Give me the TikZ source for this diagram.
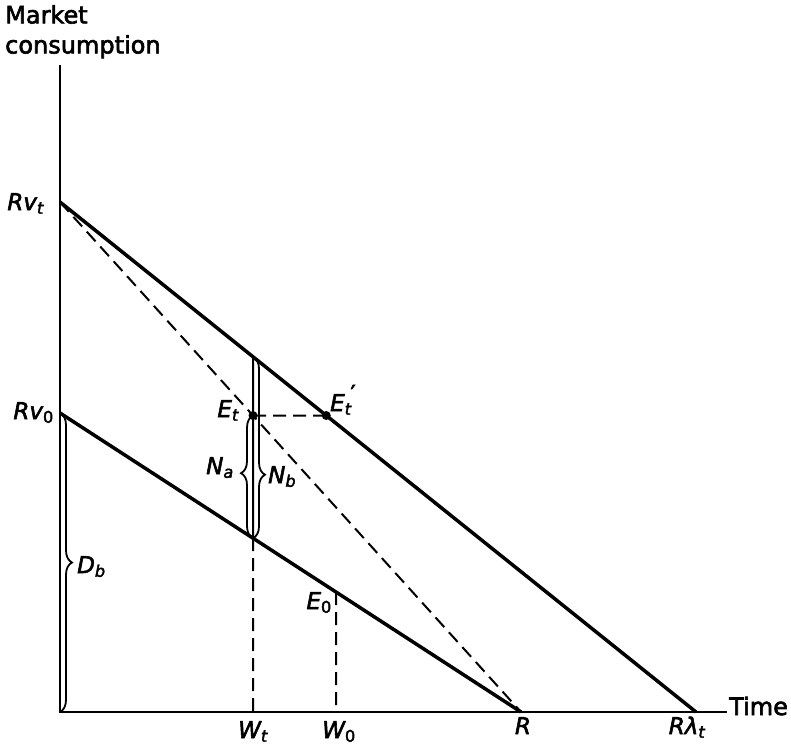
\documentclass[tikz,border=0pt]{standalone}
\usepackage{fontspec}
\setmainfont{DejaVu Sans}[FakeBold=2.5]
\usetikzlibrary{decorations.pathreplacing,calc}
\begin{document}
\begin{tikzpicture}[x=1pt,y=-1pt,
  axis/.style={line width=2.2pt},
  mainline/.style={line width=3.5pt},
  dsh/.style={line width=2pt, dash pattern=on 13pt off 7pt},
  brc/.style={decorate, decoration={brace, amplitude=12pt, aspect=#1}, line width=1.8pt},
  lab/.style={font=\fontsize{23}{25}\selectfont\itshape, inner sep=0pt},
  ttl/.style={font=\fontsize{24}{30}\selectfont, inner sep=0pt, align=left},
  dotm/.style={circle, fill, inner sep=0pt, minimum size=9pt}]
\useasboundingbox (0,0) rectangle (791,747);
% coordinates
\coordinate (O) at (60,712);
\coordinate (Ytop) at (60,65);
\coordinate (Xend) at (727,712);
\coordinate (Rvt) at (60,202);
\coordinate (Rv0) at (60,413);
\coordinate (R) at (521,712);
\coordinate (Rl) at (696,712);
\coordinate (Wt) at (253,712);
\coordinate (WtTop) at (253,0);
\coordinate (W0) at (336,712);
\coordinate (W0Top) at (336,0);
\coordinate (Et) at (intersection of Rvt--R and Wt--WtTop);
\coordinate (EtH) at ($(Et)+(600,0)$);
\coordinate (Etp) at (intersection of Rvt--Rl and Et--EtH);
\coordinate (Ut) at (intersection of Rvt--Rl and Wt--WtTop);
\coordinate (Lt) at (intersection of Rv0--R and Wt--WtTop);
\coordinate (E0) at (intersection of Rv0--R and W0--W0Top);
% axes
\draw[axis] (Ytop) -- (O) -- (Xend);
% lines
\draw[mainline] (Rvt) -- (Rl);
\draw[mainline] (Rv0) -- (R);
\draw[dsh] (Rvt) -- (R);
\draw[dsh] (Et) -- (Etp);
\draw[dsh] (Lt) -- (Wt);
\draw[dsh] (E0) -- (W0);
\draw[line width=2pt] (Ut) -- (Lt);
% braces
\draw[brc=0.65] (Ut) -- (Lt);
\draw[brc=0.53] (Lt) -- (Et);
\draw[brc=0.5] (Rv0) -- (O);
% dots
\node[dotm] (dEt) at (Et) {};
\node[dotm] (dEtp) at (Etp) {};
% labels
\node[ttl, anchor=north west] (ylab) at (5,5) {Market\\consumption};
\node[ttl, anchor=base west] (xlab) at (729,715) {Time};
\node[lab, anchor=base east] (lRvt) at (44,210) {Rv\textsubscript{t}};
\node[lab, anchor=base east] (lRv0) at (54,419) {Rv\textsubscript{\upshape 0}};
\node[lab, anchor=base east] (lEt) at (239,417) {E\textsubscript{t}};
\node[lab, anchor=base west] (lEtp) at (330,411) {E\textsubscript{t}\kern-1pt\raisebox{0.75ex}{\upshape\char"2032}};
\node[lab, anchor=base east] (lE0) at (332,609) {E\textsubscript{\upshape 0}};
\node[lab, anchor=base east] (lNa) at (234,474) {N\textsubscript{a}};
\node[lab, anchor=base west] (lNb) at (268,483) {N\textsubscript{b}};
\node[lab, anchor=base west] (lDb) at (77,573) {D\textsubscript{b}};
\node[lab, anchor=base] (lWt) at (253,738) {W\textsubscript{t}};
\node[lab, anchor=base] (lW0) at (339,738) {W\textsubscript{\upshape 0}};
\node[lab, anchor=base] (lR) at (523,734) {R};
\node[lab, anchor=base] (lRl) at (687,734) {Rλ\textsubscript{t}};
\end{tikzpicture}
\end{document}
